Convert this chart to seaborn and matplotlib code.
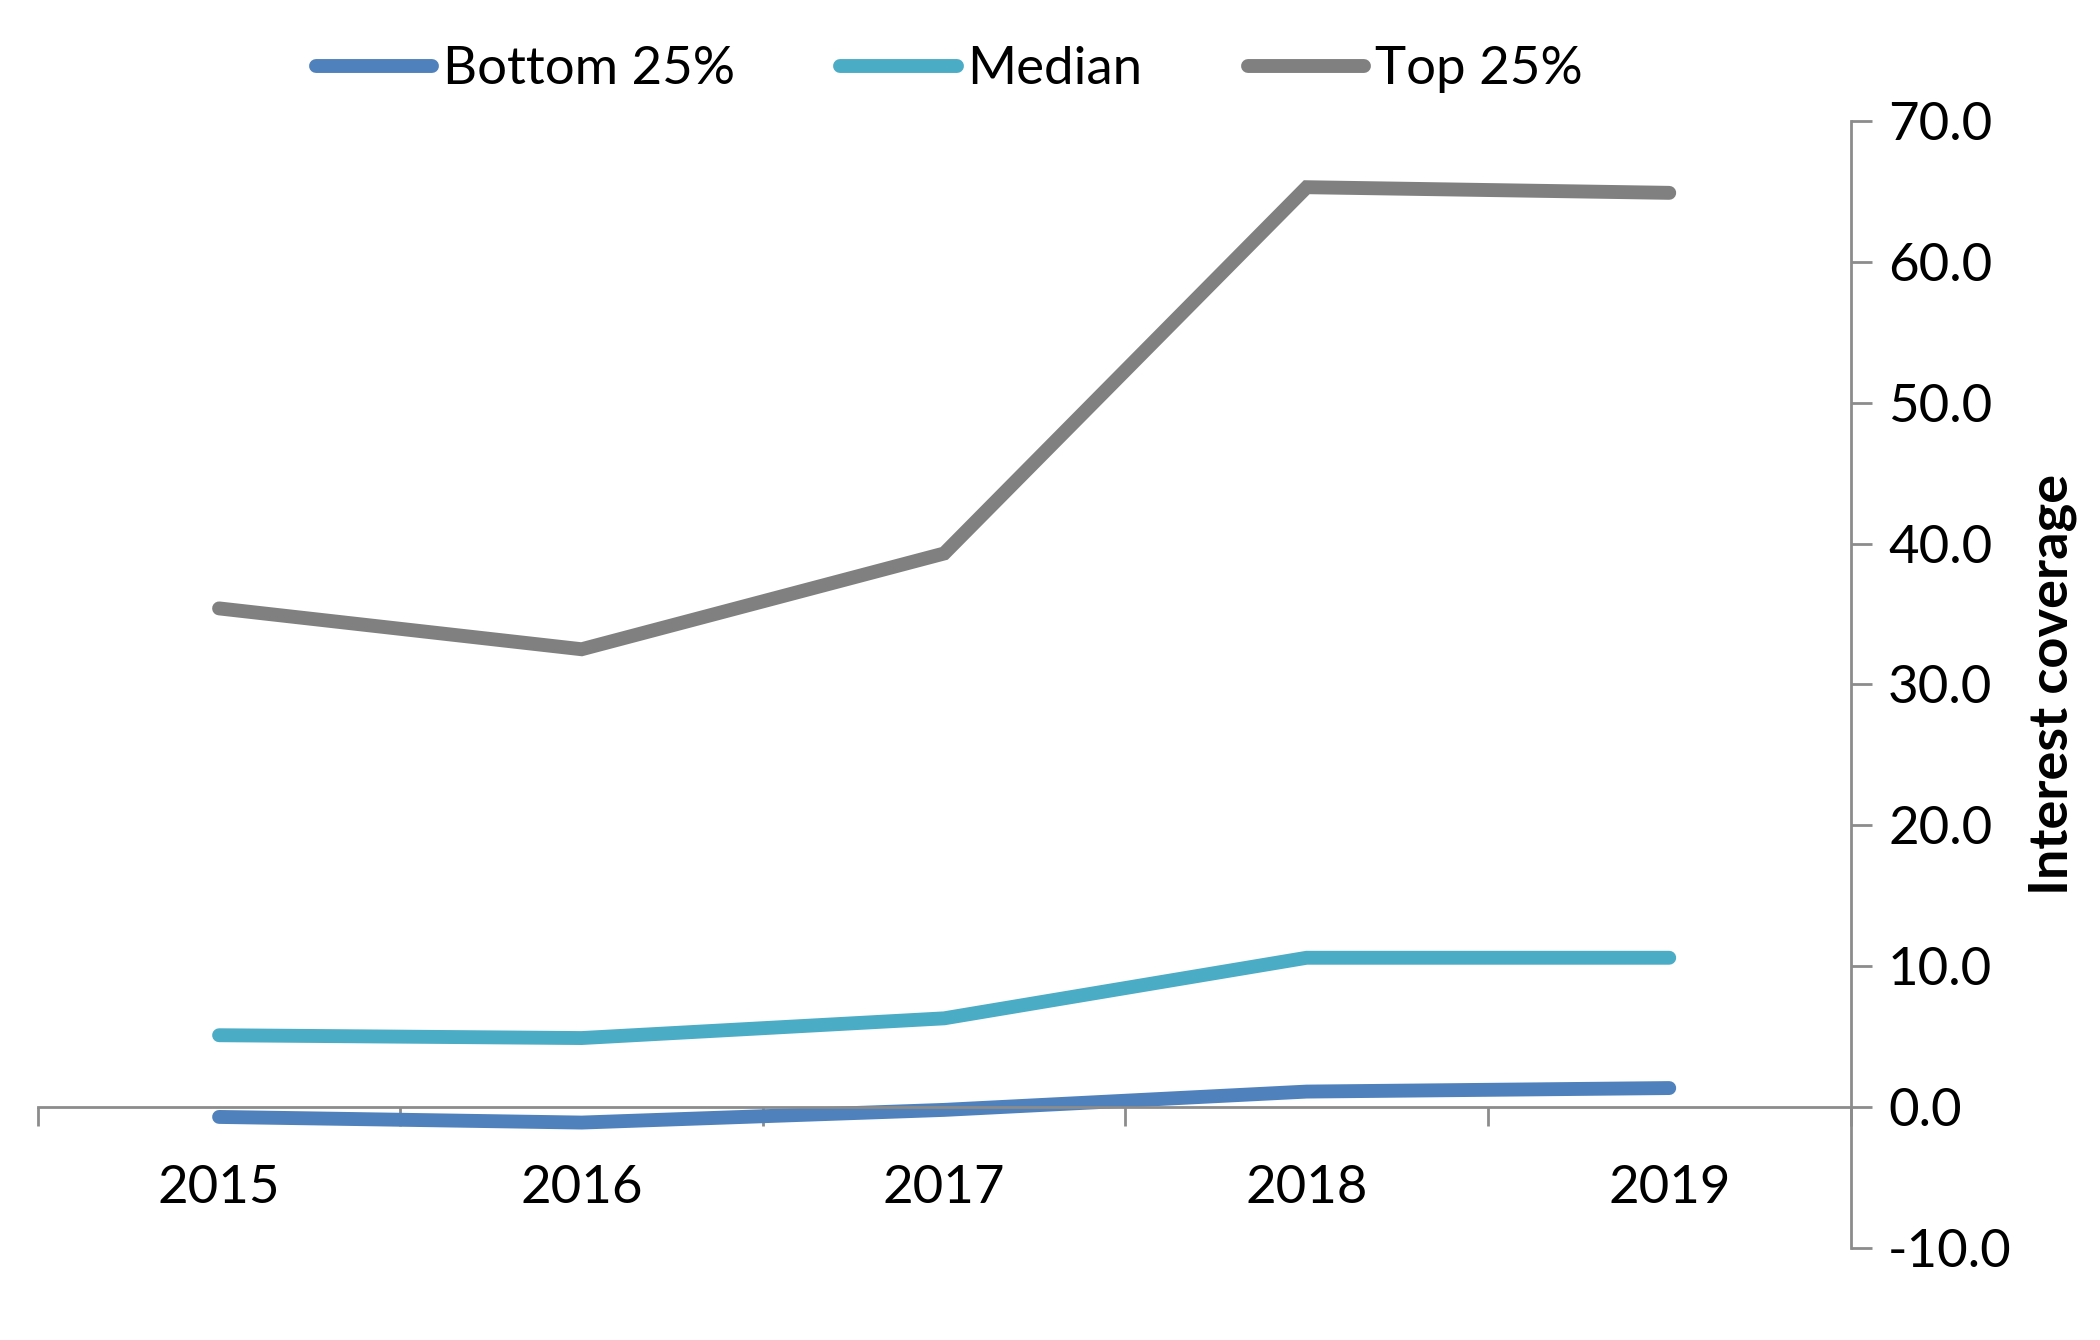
import pandas as pd
import numpy as np
import matplotlib.pyplot as plt
import seaborn as sns

years = ['2015', '2016', '2017', '2018', '2019']
bottom_25 = [-0.7, -1.1, -0.2, 1.1, 1.35]
median = [5.1, 4.9, 6.3, 10.6, 10.6]
top_25 = [35.4, 32.5, 39.3, 65.3, 64.9]

series_names = ['Bottom 25%', 'Median', 'Top 25%']
colors = ['#4F81BD', '#4BACC6', '#808080']
axis_color = '#8C8C8C'


def main():
    sns.set_style('white')
    plt.rcParams['font.family'] = ['Lato', 'DejaVu Sans']
    plt.rcParams['text.color'] = 'black'
    plt.rcParams['axes.labelcolor'] = 'black'
    plt.rcParams['xtick.labelcolor'] = 'black'
    plt.rcParams['ytick.labelcolor'] = 'black'

    df = pd.DataFrame({
        'year': years * 3,
        'value': bottom_25 + median + top_25,
        'series': np.repeat(series_names, len(years)),
    })

    fig = plt.figure(figsize=(21, 13.4), dpi=100)
    ax = fig.add_axes([0.018, 0.0687, 0.8632, 0.841])

    sns.lineplot(data=df, x='year', y='value', hue='series', palette=colors,
                 hue_order=series_names, linewidth=10, ax=ax, sort=False)
    for line in ax.get_lines():
        line.set_solid_capstyle('round')
        line.set_solid_joinstyle('miter')

    ax.set_xlim(-0.5, 4.5)
    ax.set_ylim(-10, 70)

    # y axis on the right
    ax.yaxis.tick_right()
    ax.yaxis.set_label_position('right')
    ax.set_yticks(np.arange(-10, 71, 10))
    ax.set_yticklabels([f'{v:.1f}' for v in np.arange(-10, 71, 10)])
    ax.tick_params(axis='y', direction='out', length=15, width=2,
                   color=axis_color, labelsize=38, pad=12)
    ax.set_ylabel('Interest coverage', fontsize=39, fontweight='bold', labelpad=12)

    # x axis crossing at zero; ticks on category boundaries, labels centered
    ax.spines['bottom'].set_position(('data', 0))
    ax.set_xticks(np.arange(-0.5, 4.6, 1.0))
    ax.set_xticklabels([''] * 6)
    ax.set_xticks(np.arange(0, 5), minor=True)
    ax.set_xticklabels(years, minor=True)
    ax.tick_params(axis='x', which='major', direction='out', length=14, width=2,
                   color=axis_color, bottom=True)
    ax.tick_params(axis='x', which='minor', length=0, labelsize=38, pad=42)
    ax.set_xlabel('')

    for side in ['top', 'left']:
        ax.spines[side].set_visible(False)
    for side in ['bottom', 'right']:
        ax.spines[side].set_color(axis_color)
        ax.spines[side].set_linewidth(2)

    handles, labels = ax.get_legend_handles_labels()
    ax.get_legend().remove()
    for h in handles:
        h.set_solid_capstyle('round')
        h.set_linewidth(10)
    fig.legend(handles, labels, loc='center', bbox_to_anchor=(0.452, 0.948),
               ncol=3, frameon=False, fontsize=38, handlelength=2.2,
               handletextpad=0.2, columnspacing=2.0)

    fig.savefig('out.png', dpi=100)
    plt.close(fig)


if __name__ == "__main__":
    main()
